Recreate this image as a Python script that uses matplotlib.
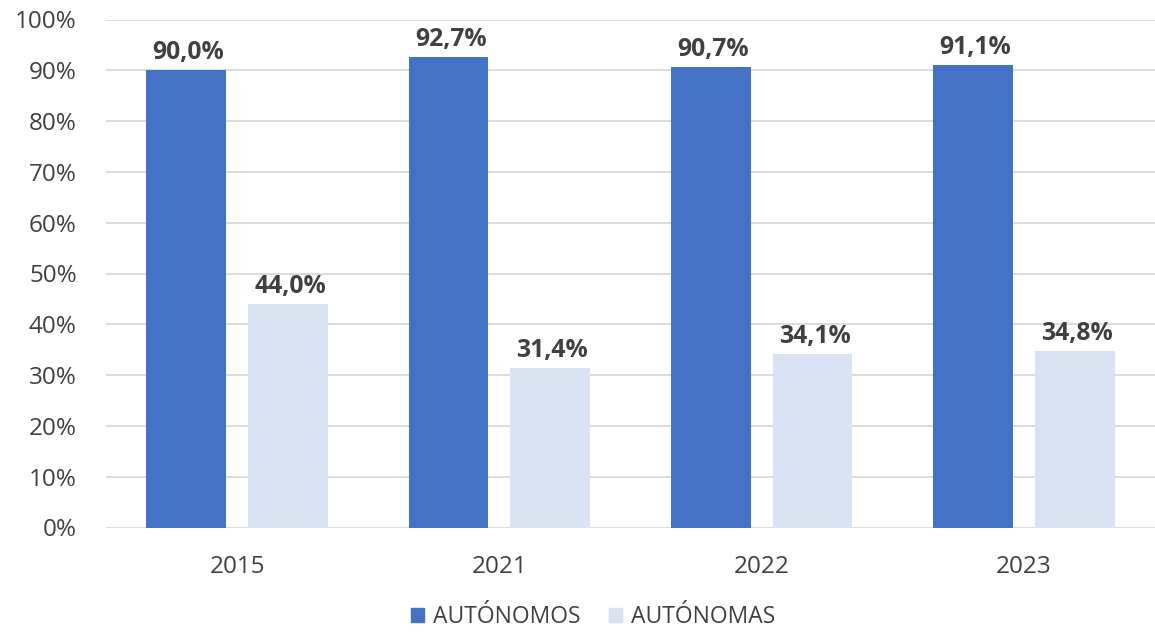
import matplotlib.pyplot as plt
import numpy as np
from matplotlib.ticker import PercentFormatter
from matplotlib.patches import Patch

plt.rcParams['font.family'] = ['Open Sans', 'Noto Sans', 'DejaVu Sans']

years = ["2015", "2021", "2022", "2023"]
autonomos = [90.0, 92.7, 90.7, 91.1]
autonomas = [44.0, 31.4, 34.1, 34.8]
series_names = ["AUTÓNOMOS", "AUTÓNOMAS"]

blue = "#4472C4"
light = "#DAE3F3"
text_col = "#404040"
grid_col = "#D9D9D9"

fig = plt.figure(figsize=(11.55, 6.32), dpi=100)
ax = fig.add_axes([106 / 1155, (632 - 527.5) / 632, 1 - 106 / 1155, (527.5 - 19.5) / 632])

x = np.arange(len(years))
w = 0.305
off = 0.194
b1 = ax.bar(x - off, autonomos, w, color=blue, zorder=3)
b2 = ax.bar(x + off, autonomas, w, color=light, zorder=3)

def fmt(v):
    return f"{v:.1f}%".replace(".", ",")

for bars, vals in ((b1, autonomos), (b2, autonomas)):
    for rect, v in zip(bars, vals):
        ax.annotate(fmt(v), (rect.get_x() + rect.get_width() / 2, v),
                    xytext=(1.5, 3.5), textcoords="offset points",
                    ha="center", va="bottom", fontsize=17.8, fontweight="bold",
                    color=text_col)

ax.set_xlim(-0.5, len(years) - 0.5)
ax.set_ylim(0, 100)
ax.set_yticks(np.arange(0, 101, 10))
ax.yaxis.set_major_formatter(PercentFormatter(decimals=0))
ax.set_xticks(x)
ax.set_xticklabels(years)
ax.tick_params(axis="y", length=0, labelsize=17.5, colors=text_col, pad=21)
ax.tick_params(axis="x", length=0, labelsize=17.5, colors=text_col, pad=20)
ax.grid(axis="y", color=grid_col, linewidth=1.3, zorder=0)
for s in ax.spines.values():
    s.set_visible(False)

handles = [Patch(color=blue), Patch(color=light)]
fig.legend(handles, series_names, loc="center", bbox_to_anchor=(593 / 1155, 1 - 617 / 632),
           ncol=2, frameon=False, fontsize=16.5, labelcolor=text_col,
           handlelength=0.55, handleheight=0.6, handletextpad=0.4, columnspacing=1.25)

fig.savefig("out.png", dpi=100)
